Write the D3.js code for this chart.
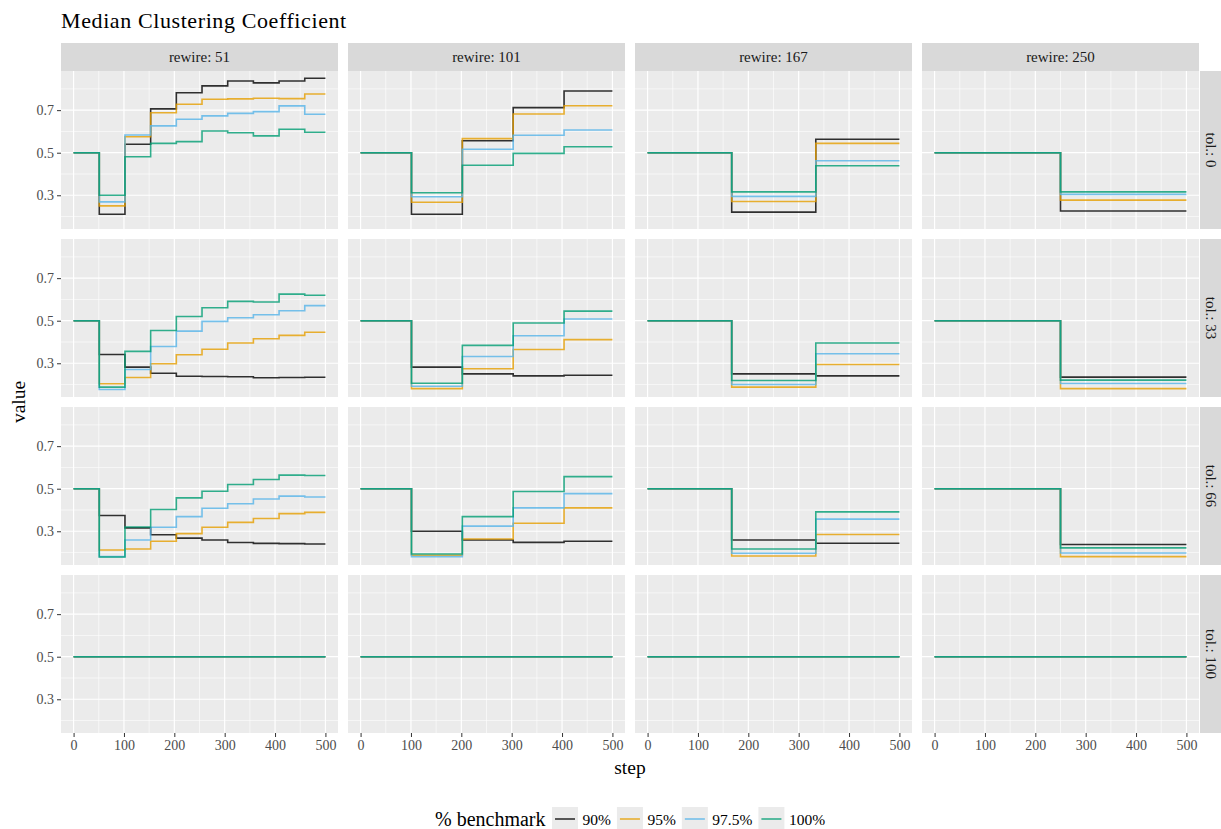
<!DOCTYPE html>
<html>
<head>
<meta charset="utf-8">
<script src="https://cdn.jsdelivr.net/npm/d3@7"></script>
<style>
  html, body { margin: 0; padding: 0; background: #ffffff; }
  svg { display: block; font-family: "Liberation Serif", "DejaVu Serif", serif; }
</style>
</head>
<body>
<svg id="chart" width="1221" height="829"></svg>
<script>
// Facet levels
const rewireLevels = [51, 101, 167, 250];
const tolLevels = [0, 33, 66, 100];
const benchmarks = ["90%", "95%", "97.5%", "100%"];
const benchmarkColors = ["#000000", "#E69F00", "#56B4E9", "#009E73"];

// Steps at which each rewire setting changes the network
const breaks51 = [0, 51, 102, 153, 204, 255, 306, 357, 408, 459];
const breaks101 = [0, 101, 202, 303, 404];
const breaks167 = [0, 167, 334];
const breaks250 = [0, 250];
const breaksByRewire = [breaks51, breaks101, breaks167, breaks250];
const lastStep = 500;

const yTicks = [0.3, 0.5, 0.7];
const yMinor = [0.2, 0.4, 0.6, 0.8];
const xTicks = [0, 100, 200, 300, 400, 500];
const xMinor = [50, 150, 250, 350, 450];

// Median clustering coefficient per interval; per panel one row per benchmark (90, 95, 97.5, 100)
const tol0 = [
  [ // rewire 51
    [0.5, 0.211, 0.540, 0.706, 0.782, 0.814, 0.837, 0.828, 0.837, 0.850],
    [0.5, 0.250, 0.575, 0.688, 0.728, 0.751, 0.753, 0.756, 0.754, 0.776],
    [0.5, 0.269, 0.583, 0.626, 0.657, 0.673, 0.685, 0.693, 0.720, 0.681],
    [0.5, 0.300, 0.481, 0.544, 0.552, 0.602, 0.594, 0.579, 0.610, 0.596]
  ],
  [ // rewire 101
    [0.5, 0.211, 0.556, 0.712, 0.790],
    [0.5, 0.267, 0.566, 0.682, 0.721],
    [0.5, 0.293, 0.516, 0.582, 0.607],
    [0.5, 0.312, 0.441, 0.497, 0.528]
  ],
  [ // rewire 167
    [0.5, 0.221, 0.563],
    [0.5, 0.271, 0.544],
    [0.5, 0.295, 0.462],
    [0.5, 0.316, 0.439]
  ],
  [ // rewire 250
    [0.5, 0.226],
    [0.5, 0.277],
    [0.5, 0.304],
    [0.5, 0.316]
  ]
];

const tol33 = [
  [
    [0.5, 0.341, 0.282, 0.253, 0.239, 0.238, 0.237, 0.232, 0.233, 0.234],
    [0.5, 0.204, 0.233, 0.298, 0.340, 0.366, 0.395, 0.415, 0.431, 0.446],
    [0.5, 0.177, 0.271, 0.379, 0.451, 0.497, 0.514, 0.528, 0.547, 0.571],
    [0.5, 0.188, 0.356, 0.454, 0.520, 0.561, 0.591, 0.588, 0.625, 0.620]
  ],
  [
    [0.5, 0.282, 0.250, 0.241, 0.244],
    [0.5, 0.181, 0.274, 0.365, 0.411],
    [0.5, 0.192, 0.332, 0.429, 0.508],
    [0.5, 0.206, 0.384, 0.489, 0.545]
  ],
  [
    [0.5, 0.250, 0.241],
    [0.5, 0.188, 0.294],
    [0.5, 0.200, 0.345],
    [0.5, 0.219, 0.395]
  ],
  [
    [0.5, 0.235],
    [0.5, 0.181],
    [0.5, 0.205],
    [0.5, 0.221]
  ]
];

const tol66 = [
  [
    [0.5, 0.374, 0.316, 0.284, 0.268, 0.259, 0.247, 0.243, 0.242, 0.240],
    [0.5, 0.212, 0.217, 0.253, 0.289, 0.319, 0.342, 0.360, 0.383, 0.389],
    [0.5, 0.181, 0.259, 0.319, 0.369, 0.408, 0.429, 0.452, 0.465, 0.461],
    [0.5, 0.179, 0.320, 0.402, 0.457, 0.488, 0.520, 0.543, 0.564, 0.562]
  ],
  [
    [0.5, 0.300, 0.259, 0.248, 0.253],
    [0.5, 0.187, 0.264, 0.338, 0.410],
    [0.5, 0.181, 0.324, 0.410, 0.477],
    [0.5, 0.193, 0.369, 0.487, 0.557]
  ],
  [
    [0.5, 0.259, 0.244],
    [0.5, 0.184, 0.285],
    [0.5, 0.197, 0.357],
    [0.5, 0.217, 0.391]
  ],
  [
    [0.5, 0.238],
    [0.5, 0.181],
    [0.5, 0.198],
    [0.5, 0.222]
  ]
];

const tol100 = [
  [[0.5], [0.5], [0.5], [0.5]],
  [[0.5], [0.5], [0.5], [0.5]],
  [[0.5], [0.5], [0.5], [0.5]],
  [[0.5], [0.5], [0.5], [0.5]]
];
const tolBreaks100 = [0];

const valuesByTol = [tol0, tol33, tol66, tol100];

// ---- layout ----
const svg = d3.select("#chart");
const panelW = 277, panelH = 158, gap = 10;
const left0 = 61, top0 = 71;
const stripH = 28, stripW = 21;
const colLeft = c => left0 + c * (panelW + gap);
const rowTop = r => top0 + r * (panelH + gap);

const x = d3.scaleLinear().domain([-25, 525]).range([0, panelW]);
const y = d3.scaleLinear().domain([0.1415, 0.884]).range([panelH, 0]);

const line = d3.line()
  .x(d => x(d[0]))
  .y(d => y(d[1]))
  .curve(d3.curveStepAfter);

// Title
svg.append("text")
  .attr("x", 61).attr("y", 28)
  .attr("font-size", 22).attr("letter-spacing", 0.6).attr("fill", "#000")
  .text("Median Clustering Coefficient");

// Column strips
rewireLevels.forEach((rw, c) => {
  const g = svg.append("g").attr("transform", `translate(${colLeft(c)},${top0 - stripH})`);
  g.append("rect").attr("width", panelW).attr("height", stripH).attr("fill", "#D9D9D9");
  g.append("text")
    .attr("x", panelW / 2).attr("y", stripH / 2 + 5)
    .attr("text-anchor", "middle").attr("font-size", 15).attr("fill", "#1A1A1A")
    .text(`rewire: ${rw}`);
});

// Row strips
tolLevels.forEach((tl, r) => {
  const sx = colLeft(3) + panelW + 1;
  const g = svg.append("g").attr("transform", `translate(${sx},${rowTop(r)})`);
  g.append("rect").attr("width", stripW).attr("height", panelH).attr("fill", "#D9D9D9");
  g.append("text")
    .attr("transform", `translate(${stripW / 2 - 5},${panelH / 2}) rotate(90)`)
    .attr("text-anchor", "middle").attr("font-size", 15).attr("fill", "#1A1A1A")
    .text(`tol.: ${tl}`);
});

// Panels
tolLevels.forEach((tl, r) => {
  rewireLevels.forEach((rw, c) => {
    const g = svg.append("g").attr("transform", `translate(${colLeft(c)},${rowTop(r)})`);
    g.append("rect").attr("width", panelW).attr("height", panelH).attr("fill", "#EBEBEB");

    // grid
    g.selectAll(".ymin").data(yMinor).enter().append("line")
      .attr("x1", 0).attr("x2", panelW).attr("y1", d => y(d)).attr("y2", d => y(d))
      .attr("stroke", "#fff").attr("stroke-width", 0.6);
    g.selectAll(".xmin").data(xMinor).enter().append("line")
      .attr("y1", 0).attr("y2", panelH).attr("x1", d => x(d)).attr("x2", d => x(d))
      .attr("stroke", "#fff").attr("stroke-width", 0.6);
    g.selectAll(".ymaj").data(yTicks).enter().append("line")
      .attr("x1", 0).attr("x2", panelW).attr("y1", d => y(d)).attr("y2", d => y(d))
      .attr("stroke", "#fff").attr("stroke-width", 1.2);
    g.selectAll(".xmaj").data(xTicks).enter().append("line")
      .attr("y1", 0).attr("y2", panelH).attr("x1", d => x(d)).attr("x2", d => x(d))
      .attr("stroke", "#fff").attr("stroke-width", 1.2);

    // step lines
    const brks = r === 3 ? tolBreaks100 : breaksByRewire[c];
    const panelVals = valuesByTol[r][c];
    panelVals.forEach((vals, k) => {
      const pts = brks.map((b, i) => [b, vals[i]]);
      pts.push([lastStep, vals[vals.length - 1]]);
      g.append("path")
        .attr("d", line(pts))
        .attr("fill", "none")
        .attr("stroke", benchmarkColors[k])
        .attr("stroke-opacity", 0.8)
        .attr("stroke-width", 1.6);
    });

    // y axis on first column
    if (c === 0) {
      const ax = g.append("g").call(d3.axisLeft(y).tickValues(yTicks).tickSize(4).tickPadding(3).tickFormat(d3.format(".1f")));
      ax.select(".domain").remove();
      ax.selectAll("line").attr("stroke", "#333").attr("stroke-width", 1);
      ax.selectAll("text").attr("font-size", 14).attr("fill", "#4D4D4D")
        .attr("font-family", "Liberation Serif, serif");
    }
    // x axis on last row
    if (r === 3) {
      const ax = g.append("g").attr("transform", `translate(0,${panelH})`)
        .call(d3.axisBottom(x).tickValues(xTicks).tickSize(4).tickPadding(3).tickFormat(d3.format("d")));
      ax.select(".domain").remove();
      ax.selectAll("line").attr("stroke", "#333").attr("stroke-width", 1);
      ax.selectAll("text").attr("font-size", 14).attr("fill", "#4D4D4D")
        .attr("font-family", "Liberation Serif, serif");
    }
  });
});

// Axis titles
const plotMidX = (colLeft(0) + colLeft(3) + panelW) / 2;
const plotMidY = (rowTop(0) + rowTop(3) + panelH) / 2;
svg.append("text")
  .attr("x", plotMidX).attr("y", 774)
  .attr("text-anchor", "middle").attr("font-size", 19.5).attr("fill", "#000")
  .text("step");
svg.append("text")
  .attr("transform", `translate(25,${plotMidY}) rotate(-90)`)
  .attr("text-anchor", "middle").attr("font-size", 19.5).attr("fill", "#000")
  .text("value");

// Legend
const lg = svg.append("g");
const legTitle = lg.append("text")
  .attr("x", 435).attr("y", 826)
  .attr("font-size", 20).attr("fill", "#000")
  .text("% benchmark");
let lx = 435 + legTitle.node().getComputedTextLength() + 6.5;
const keyW = 26, keyH = 24, keyTop = 807;
benchmarks.forEach((b, k) => {
  lg.append("rect").attr("x", lx).attr("y", keyTop).attr("width", keyW).attr("height", keyH).attr("fill", "#EBEBEB");
  lg.append("line")
    .attr("x1", lx + 3).attr("x2", lx + keyW - 3)
    .attr("y1", keyTop + 12).attr("y2", keyTop + 12)
    .attr("stroke", benchmarkColors[k]).attr("stroke-opacity", 0.8).attr("stroke-width", 1.6);
  const t = lg.append("text")
    .attr("x", lx + keyW + 4.5).attr("y", 825)
    .attr("font-size", 15.5).attr("fill", "#000")
    .text(b);
  lx += keyW + 4.5 + t.node().getComputedTextLength() + 6;
});
</script>
</body>
</html>
